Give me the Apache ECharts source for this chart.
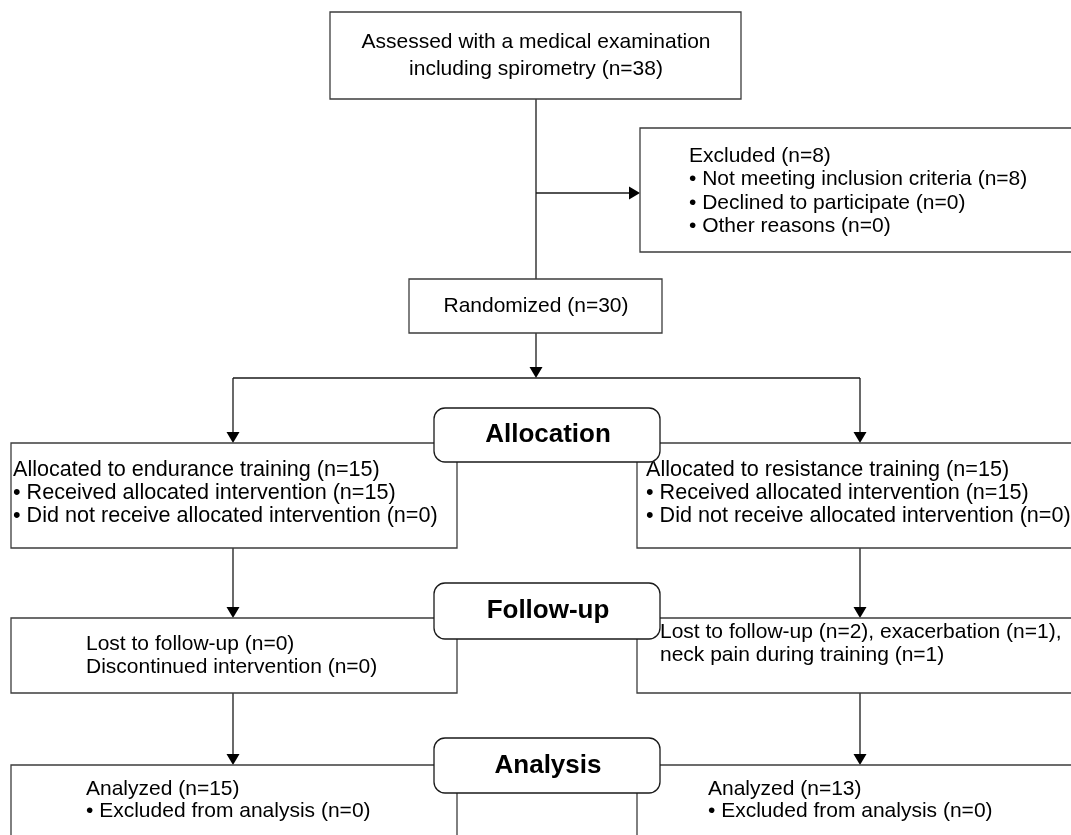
<!DOCTYPE html>
<html>
<head>
<meta charset="utf-8">
<script src="https://cdn.jsdelivr.net/npm/echarts@6.0.0/dist/echarts.min.js"></script>
<style>
  html, body { margin: 0; padding: 0; background: #ffffff; }
  #chart { width: 1071px; height: 835px; }
</style>
</head>
<body>
<div id="chart"></div>
<script>
// ---- Data (texts and counts of the CONSORT flow) ----
const assessedLines = ['Assessed with a medical examination', 'including spirometry (n=38)'];
const excludedLines = ['Excluded (n=8)', '\u2022 Not meeting inclusion criteria (n=8)', '\u2022 Declined to participate (n=0)', '\u2022 Other reasons (n=0)'];
const randomizedLines = ['Randomized (n=30)'];
const stageLabels = ['Allocation', 'Follow-up', 'Analysis'];
const allocLeftLines = ['Allocated to endurance training (n=15)', '\u2022 Received allocated intervention (n=15)', '\u2022 Did not receive allocated intervention (n=0)'];
const allocRightLines = ['Allocated to resistance training (n=15)', '\u2022 Received allocated intervention (n=15)', '\u2022 Did not receive allocated intervention (n=0)'];
const followLeftLines = ['Lost to follow-up (n=0)', 'Discontinued intervention (n=0)'];
const followRightLines = ['Lost to follow-up (n=2), exacerbation (n=1),', 'neck pain during training (n=1)'];
const analysisLeftLines = ['Analyzed (n=15)', '\u2022 Excluded from analysis (n=0)'];
const analysisRightLines = ['Analyzed (n=13)', '\u2022 Excluded from analysis (n=0)'];

// ---- Layout (positions in the diagram's own 1071 x 835 coordinate space) ----
const FONT = '"Liberation Sans", Arial, Helvetica, sans-serif';
const bodyFont = '21px ' + FONT;
const allocFont = '21.6px ' + FONT;
const stageFont = 'bold 26px ' + FONT;

const boxLayout = [
  { lines: assessedLines,     x0: 330, y0: 12,  x1: 741,  y1: 99,  align: 'center', tx: 536, ty: 42,  step: 27, font: bodyFont },
  { lines: excludedLines,     x0: 640, y0: 128, x1: 1090, y1: 252, align: 'left',   tx: 689, ty: 156, step: 23.5, font: bodyFont },
  { lines: randomizedLines,   x0: 409, y0: 279, x1: 662,  y1: 333, align: 'center', tx: 536, ty: 306, step: 23, font: bodyFont },
  { lines: allocLeftLines,    x0: 11,  y0: 443, x1: 457,  y1: 548, align: 'left',   tx: 13,  ty: 470, step: 23, font: allocFont },
  { lines: allocRightLines,   x0: 637, y0: 443, x1: 1090, y1: 548, align: 'left',   tx: 646, ty: 470, step: 23, font: allocFont },
  { lines: followLeftLines,   x0: 11,  y0: 618, x1: 457,  y1: 693, align: 'left',   tx: 86,  ty: 644, step: 23, font: bodyFont },
  { lines: followRightLines,  x0: 637, y0: 618, x1: 1090, y1: 693, align: 'left',   tx: 660, ty: 632, step: 23, font: bodyFont },
  { lines: analysisLeftLines, x0: 11,  y0: 765, x1: 457,  y1: 900, align: 'left',   tx: 86,  ty: 789, step: 22, font: bodyFont },
  { lines: analysisRightLines,x0: 637, y0: 765, x1: 1090, y1: 900, align: 'left',   tx: 708, ty: 789, step: 22, font: bodyFont }
];

const stageLayout = [
  { x0: 434, y0: 408, x1: 660, y1: 462 },
  { x0: 434, y0: 583, x1: 660, y1: 639 },
  { x0: 434, y0: 738, x1: 660, y1: 793 }
];

const connectors = [
  { from: [536, 99],  to: [536, 279], head: false },
  { from: [536, 193], to: [640, 193], head: true },
  { from: [536, 333], to: [536, 378], head: true },
  { from: [233, 378], to: [860, 378], head: false },
  { from: [233, 378], to: [233, 443], head: true },
  { from: [860, 378], to: [860, 443], head: true },
  { from: [233, 548], to: [233, 618], head: true },
  { from: [860, 548], to: [860, 618], head: true },
  { from: [233, 693], to: [233, 765], head: true },
  { from: [860, 693], to: [860, 765], head: true }
];

const chart = echarts.init(document.getElementById('chart'), null, { renderer: 'canvas' });

function renderConnector(params, api) {
  const c = connectors[params.dataIndex];
  const a = api.coord(c.from), b = api.coord(c.to);
  const children = [];
  const dx = b[0] - a[0], dy = b[1] - a[1];
  const len = Math.sqrt(dx * dx + dy * dy);
  const ux = dx / len, uy = dy / len;
  const headL = 11, headW = 6.5;
  const end = c.head ? [b[0] - ux * headL * 0.6, b[1] - uy * headL * 0.6] : b;
  children.push({ type: 'line', shape: { x1: a[0], y1: a[1], x2: end[0], y2: end[1] },
    style: { stroke: '#1a1a1a', lineWidth: 1.3 } });
  if (c.head) {
    const bx = b[0] - ux * headL, by = b[1] - uy * headL;
    children.push({ type: 'polygon', shape: { points: [
      [b[0], b[1]], [bx - uy * headW, by + ux * headW], [bx + uy * headW, by - ux * headW]
    ] }, style: { fill: '#000000' } });
  }
  return { type: 'group', children };
}

function renderBox(params, api) {
  const b = boxLayout[params.dataIndex];
  const p0 = api.coord([b.x0, b.y0]), p1 = api.coord([b.x1, b.y1]);
  const children = [{
    type: 'rect',
    shape: { x: p0[0], y: p0[1], width: p1[0] - p0[0], height: p1[1] - p0[1] },
    style: { fill: '#ffffff', stroke: '#3c3c3c', lineWidth: 1.3 }
  }];
  b.lines.forEach(function (t, i) {
    const pt = api.coord([b.tx, b.ty + i * b.step]);
    children.push({ type: 'text', style: { text: t, x: pt[0], y: pt[1], align: b.align,
      verticalAlign: 'middle', font: b.font, fill: '#000000' } });
  });
  return { type: 'group', children };
}

function renderStage(params, api) {
  const s = stageLayout[params.dataIndex];
  const p0 = api.coord([s.x0, s.y0]), p1 = api.coord([s.x1, s.y1]);
  return { type: 'group', children: [
    { type: 'rect', shape: { x: p0[0], y: p0[1], width: p1[0] - p0[0], height: p1[1] - p0[1], r: 11 },
      style: { fill: '#ffffff', stroke: '#1a1a1a', lineWidth: 1.3 } },
    { type: 'text', style: { text: stageLabels[params.dataIndex], x: (p0[0] + p1[0]) / 2 + 1, y: (p0[1] + p1[1]) / 2,
      align: 'center', verticalAlign: 'middle', font: stageFont, fill: '#000000' } }
  ] };
}

chart.setOption({
  animation: false,
  backgroundColor: '#ffffff',
  grid: { left: 0, right: 0, top: 0, bottom: 0, containLabel: false },
  xAxis: { type: 'value', min: 0, max: 1071, show: false },
  yAxis: { type: 'value', min: 0, max: 835, inverse: true, show: false },
  series: [
    { type: 'custom', coordinateSystem: 'cartesian2d', clip: true, z: 1,
      data: connectors.map(function (c, i) { return [c.from[0], c.from[1], i]; }),
      encode: { x: 0, y: 1 }, renderItem: renderConnector, silent: true },
    { type: 'custom', coordinateSystem: 'cartesian2d', clip: true, z: 2,
      data: boxLayout.map(function (b, i) { return [b.x0, b.y0, i]; }),
      encode: { x: 0, y: 1 }, renderItem: renderBox, silent: true },
    { type: 'custom', coordinateSystem: 'cartesian2d', clip: true, z: 3,
      data: stageLayout.map(function (s, i) { return [s.x0, s.y0, i]; }),
      encode: { x: 0, y: 1 }, renderItem: renderStage, silent: true }
  ]
});
</script>
</body>
</html>
